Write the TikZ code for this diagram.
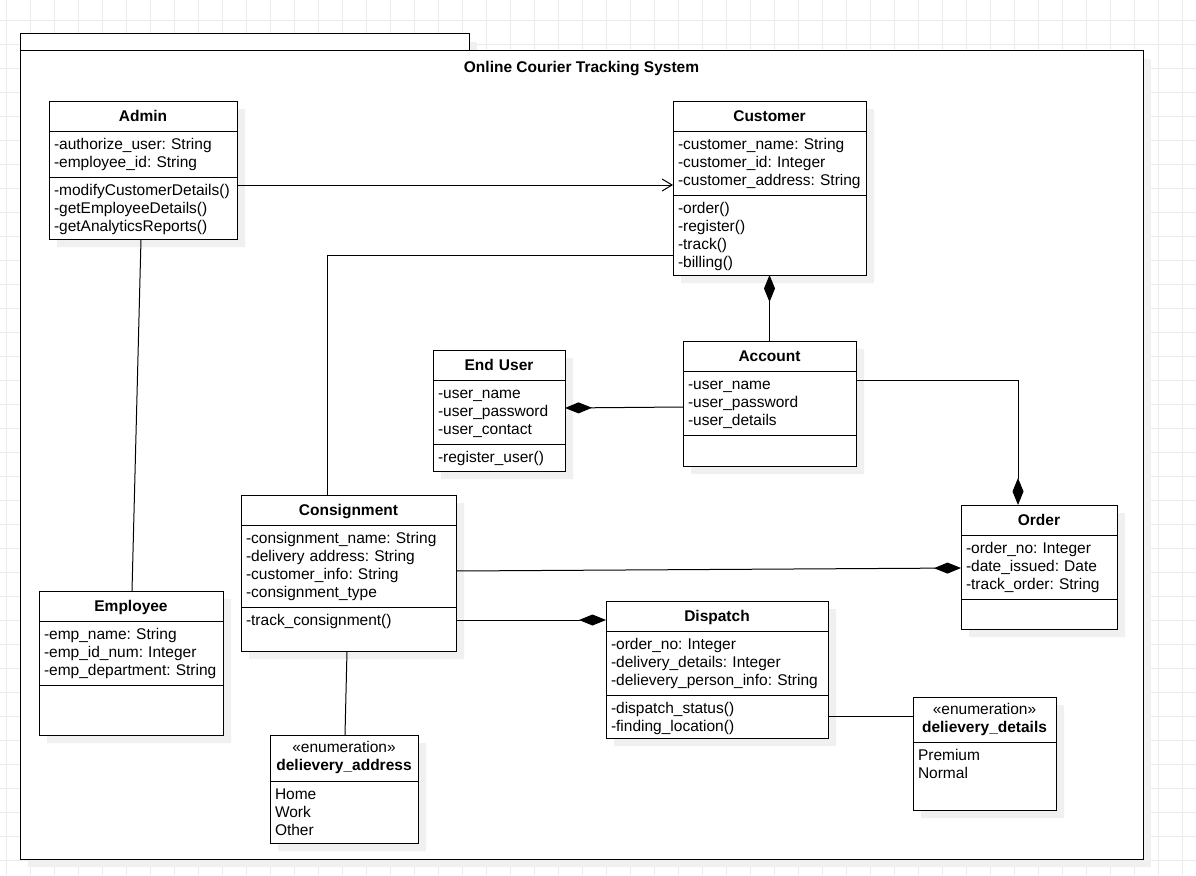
\documentclass[tikz,border=0pt]{standalone}
\usepackage{fontspec}
\setmainfont{Liberation Sans}
\usepackage{tikz}
\usetikzlibrary{arrows.meta, positioning, shapes.multipart, shadows}

\newcommand{\umlfont}{\fontsize{15.5}{18}\selectfont\frenchspacing}
\newcommand{\umltitle}[1]{\parbox[t][29pt][t]{\linewidth}{\vspace*{7pt}\centering\bfseries\strut #1}}
\newcommand{\umlsec}[2]{\parbox[t][#1][t]{\dimexpr\linewidth+20pt\relax}{\raggedright\vspace*{5pt}\strut #2}}
\newcommand{\umlhead}[2]{\parbox[t][#1][t]{\linewidth}{\vspace*{4.5pt}\centering\strut #2}}

\begin{document}
\begin{tikzpicture}[x=1pt, y=-1pt]
    \tikzstyle{gridline} = [draw=black!8, line width=1pt]
    \tikzstyle{pkgbox} = [draw, fill=white, line width=1pt, inner sep=0pt, outer sep=0pt, anchor=north west, general shadow={fill=black!6, shadow xshift=8pt, shadow yshift=-8pt}]
    \tikzstyle{umlclass} = [rectangle split, rectangle split parts=3, draw, fill=white, line width=1pt, inner xsep=5pt, inner ysep=0pt, outer sep=0pt, anchor=north west, font=\umlfont, general shadow={fill=black!6, shadow xshift=8pt, shadow yshift=-8pt}]
    \tikzstyle{umlenum} = [umlclass, rectangle split parts=2]
    \tikzstyle{assoc} = [draw, line width=1pt]
    \tikzstyle{navi} = [draw, line width=1pt, -{Straight Barb[length=10pt, width=12pt]}]
    \tikzstyle{compos} = [draw, line width=1pt, -{Diamond[length=27pt, width=11pt]}]

    \useasboundingbox (0,0) rectangle (1196,875);

    % 背景网格
    \foreach \gx in {0,...,49} \draw[gridline] (6.7+24*\gx,0) -- (6.7+24*\gx,875);
    \foreach \gy in {0,...,35} \draw[gridline] (0,20.3+24*\gy) -- (1196,20.3+24*\gy);

    % 定义包
    \node[pkgbox, minimum width=449pt, minimum height=17pt] (tab) at (20,34) {};
    \node[pkgbox, minimum width=1123pt, minimum height=808pt, below=0pt of tab.south west, anchor=north west] (pkg) {};
    \node[font=\umlfont\bfseries, below=7pt of pkg.north] (title) {Online Courier Tracking System};

    % 定义类
    \node[umlclass, text width=178pt] (admin) at (49,101) {\umltitle{Admin}
        \nodepart{two}\umlsec{45pt}{-authorize\_user: String\\-employee\_id: String}
        \nodepart{three}\umlsec{61pt}{-modifyCustomerDetails()\\-getEmployeeDetails()\\-getAnalyticsReports()}};
    \node[umlclass, text width=183pt, right=436pt of admin.north east, anchor=north west] (customer) {\umltitle{Customer}
        \nodepart{two}\umlsec{63pt}{-customer\_name: String\\-customer\_id: Integer\\-customer\_address: String}
        \nodepart{three}\umlsec{79pt}{-order()\\-register()\\-track()\\-billing()}};
    \node[umlclass, text width=163pt, below=66pt of customer.south] (account) {\umltitle{Account}
        \nodepart{two}\umlsec{63pt}{-user\_name\\-user\_password\\-user\_details}
        \nodepart{three}\umlsec{30pt}{}};
    \node[umlclass, text width=122pt, left=118pt of account.north west, anchor=north east, yshift=-9pt] (enduser) {\umltitle{End User}
        \nodepart{two}\umlsec{63pt}{-user\_name\\-user\_password\\-user\_contact}
        \nodepart{three}\umlsec{26pt}{-register\_user()}};
    \node[umlclass, text width=205pt] (consign) at (241,495) {\umltitle{Consignment}
        \nodepart{two}\umlsec{81pt}{-consignment\_name: String\\-delivery address: String\\-customer\_info: String\\-consignment\_type}
        \nodepart{three}\umlsec{43pt}{-track\_consignment()}};
    \node[umlclass, text width=174pt] (emp) at (39,591) {\umltitle{Employee}
        \nodepart{two}\umlsec{63pt}{-emp\_name: String\\-emp\_id\_num: Integer\\-emp\_department: String}
        \nodepart{three}\umlsec{49pt}{}};
    \node[umlclass, text width=146pt] (order) at (961,505) {\umltitle{Order}
        \nodepart{two}\umlsec{63pt}{-order\_no: Integer\\-date\_issued: Date\\-track\_order: String}
        \nodepart{three}\umlsec{29pt}{}};
    \node[umlclass, text width=212pt] (dispatch) at (606,601) {\umltitle{Dispatch}
        \nodepart{two}\umlsec{63pt}{-order\_no: Integer\\-delivery\_details: Integer\\-delievery\_person\_info: String}
        \nodepart{three}\umlsec{42pt}{-dispatch\_status()\\-finding\_location()}};

    % 枚举
    \node[umlenum, text width=138pt] (addrenum) at (270,735) {\umlhead{45pt}{«enumeration»\\\textbf{delievery\_address}}
        \nodepart{two}\umlsec{61pt}{Home\\Work\\Other}};
    \node[umlenum, text width=133pt] (detenum) at (913,697) {\umlhead{44pt}{«enumeration»\\\textbf{delievery\_details}}
        \nodepart{two}\umlsec{67pt}{Premium\\Normal}};

    % 添加连线
    \path[navi] ([yshift=-84pt]admin.north east) -- ([yshift=-84pt]customer.north west);
    \path[assoc] ([yshift=-154pt]customer.north west) -| ([xshift=-21.5pt]consign.north);
    \path[assoc] ([xshift=-2pt]admin.south) -- ([xshift=1pt]emp.north);
    \path[compos] (account.north) -- (customer.south);
    \path[compos] ([yshift=-66pt]account.north west) -- ([yshift=-58pt]enduser.north east);
    \path[compos] ([yshift=-39pt]account.north east) -| ([xshift=-21pt]order.north);
    \path[compos] ([yshift=-76pt]consign.north east) -- ([yshift=-63pt]order.north west);
    \path[compos] ([yshift=-125pt]consign.north east) -- ([yshift=-19pt]dispatch.north west);
    \path[assoc] ([xshift=-1.5pt]consign.south) -- ([xshift=1pt]addrenum.north);
    \path[assoc] ([yshift=-115pt]dispatch.north east) -- ([yshift=-19pt]detenum.north west);
\end{tikzpicture}
\end{document}
